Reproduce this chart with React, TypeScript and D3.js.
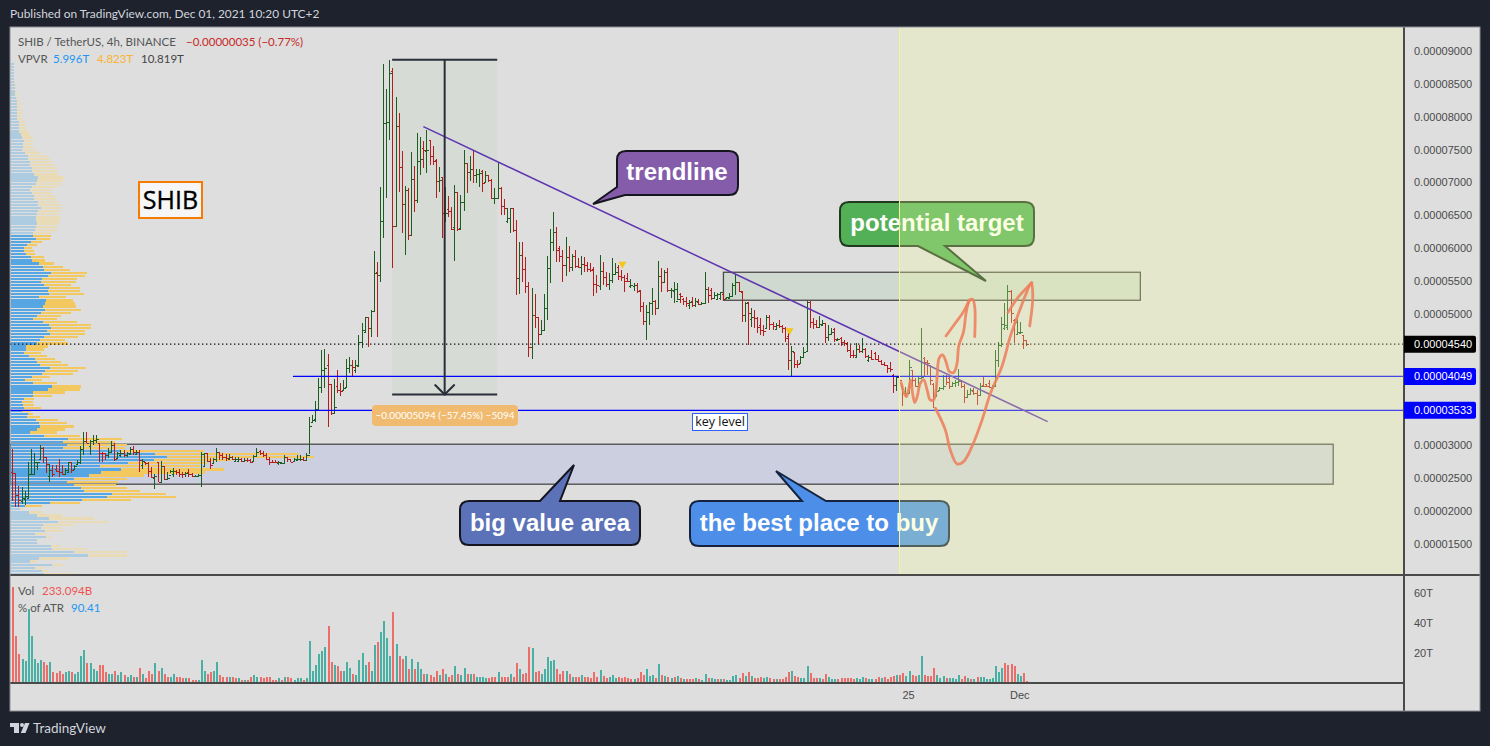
import React from "react";
import * as d3 from "d3";

// ---------- values (prices in units of 1e-8 USDT) ----------
type Bar = [number, number, number, number]; // open, high, low, close

const barsBase: Bar[] = [
[2600,2940,2160,2575],[2575,2576,2070,2250],[2250,2385,2070,2170],[2150,2365,2110,2200],[2190,2310,2095,2225],
[2200,2755,2195,2560],[2560,2940,2550,2570],[2560,2880,2565,2750],[2680,2755,2630,2740],[2800,3010,2780,2960],
[2960,2980,2730,2830],[2830,2830,2575,2720],[2530,2720,2450,2620],[2620,2700,2525,2570],[2640,2700,2600,2610],
[2610,2790,2525,2600],[2600,2700,2550,2560],[2560,2650,2550,2630],[2600,2755,2575,2740],[2740,2755,2575,2620],
[2640,2700,2625,2680],[2710,2780,2700,2750],[2750,2992,2720,2950],[2950,3200,2855,3060],[3060,3200,3030,3040],
[2990,3080,2855,3060],[3060,3160,3010,3075],[3075,3160,3030,3100],[3030,3030,2755,2890],[2890,2906,2740,2880],
[2880,2880,2780,2850],[2850,2957,2805,2900],[2900,3068,2880,3000],[3000,3030,2770,2790],[2810,2906,2805,2880],
[2860,2930,2830,2880],[2890,2930,2830,2850],[2850,2906,2830,2880],[2870,2972,2855,2950],[2950,2992,2855,2900],
[2870,2930,2855,2900],[2900,2930,2600,2780],[2700,2790,2640,2770],[2750,2755,2700,2725],[2725,2755,2525,2610],
[2610,2678,2500,2520],[2510,2560,2340,2530],[2750,2755,2440,2440],[2440,2765,2440,2680],[2680,2678,2475,2490],
[2490,2600,2475,2500],[2550,2625,2576,2610],[2570,2650,2525,2615],[2615,2625,2550,2590],[2590,2640,2525,2570],
[2570,2600,2500,2560],[2560,2600,2525,2580],[2590,2640,2525,2560],[2560,2576,2525,2530],[2530,2550,2525,2530],
[2530,2560,2525,2550],[2550,2906,2374,2870],[2680,2890,2678,2880],[2880,2880,2755,2770],[2770,2805,2640,2700],
[2730,2805,2730,2790],[2790,2957,2740,2900],[2900,2906,2780,2860],[2860,2880,2780,2830],[2830,2865,2770,2815],
[2800,2870,2780,2820],[2820,2845,2780,2800],[2760,2830,2755,2790],[2760,2830,2755,2790],[2790,2805,2755,2770],
[2770,2805,2755,2780],[2785,2805,2755,2775],[2775,2790,2730,2745],[2760,2855,2755,2840],[2840,2957,2830,2900],
[2910,2930,2855,2880],[2880,2920,2830,2850],[2850,2880,2780,2800],[2800,2830,2700,2755],[2755,2780,2730,2745],
[2755,2780,2730,2750],[2730,2770,2700,2745],[2725,2755,2720,2735],[2730,2855,2730,2820],[2820,2830,2755,2790],
[2790,2790,2740,2755],[2770,2805,2770,2790],[2780,2855,2770,2790],[2790,2855,2770,2795],[2800,2830,2770,2785],
[2785,2880,2780,2860],
];

const barsRally: Bar[] = [
[2860,3430,2865,3300],[3360,3464,3340,3380],[3400,3677,3362,3550],[3550,4021,3550,3895],[3895,4452,3793,4148],
[4140,4462,3869,4170],[4220,4386,3286,3930],[3930,3935,3464,3500],[3500,4011,3500,3590],[3900,4148,3793,3844],
[3844,3945,3757,3830],[3840,3996,3844,3880],[3885,4315,3894,4170],[4170,4350,4097,4230],[4230,4300,4047,4190],
[4150,4300,4097,4230],[4210,4680,4199,4580],[4580,4858,4488,4750],[4730,4959,4730,4950],[4950,4959,4503,4780],
[4780,5060,4655,5040],[5040,5958,5035,5620],[5640,5785,4655,5590],[5590,6926,5491,6410],[6410,8797,6161,7900],
[7900,8422,6769,7915],[7915,8863,7646,8670],[8690,8736,5704,6340],[6340,8300,6328,7860],[7860,8052,6850,7240],
[7240,7479,6227,6670],[6670,6946,5897,6880],[6880,6911,6125,6200],[6200,7459,6201,7050],[7050,7250,6556,6740],
[6740,7748,6683,7320],[7320,7697,7113,7350],[7520,7631,7225,7490],[7480,7798,7139,7495],[7640,7646,7266,7400],
[7400,7560,7266,7320],[7340,7352,6759,7020],[7020,7240,6860,7030],[7080,7088,6161,6530],[6530,6936,6404,6540],
[6590,6794,6480,6566],
];

const barsDecline: Bar[] = [
[6566,6632,6277,6290],[6320,6962,5811,6860],[6860,6860,6267,6290],[6300,6810,6277,6700],[6700,7494,6571,7290],
[7290,7301,6835,7160],[7160,7403,7027,7200],[7200,7494,6997,7110],[7110,7205,6987,7130],[7130,7205,6936,7150],
[7170,7190,6850,6990],[7000,7174,6997,7110],[7110,7114,7012,7040],[7045,7048,6744,6760],[6760,6911,6667,6770],
[6770,7301,6744,6910],[6910,6926,6505,6640],[6640,6744,6505,6610],[6420,6607,6378,6460],[6460,6607,6236,6610],
[6610,6607,6252,6270],[6270,6429,5288,5550],[5550,6100,5303,5900],[5900,6100,5491,5680],[5680,5861,5314,5430],
[5430,5481,4340,4490],[4490,5390,4315,4990],[4990,5303,4782,4950],[4950,4959,4543,4700],[4700,4908,4680,4760],
[4760,5303,4756,5090],[5090,5882,4908,5700],[5700,6292,5466,6100],[6100,6546,5963,6250],[6250,6318,5795,5980],
[6000,6034,5795,5880],[5880,5973,5491,5740],[5740,6166,5583,5870],[5870,6034,5643,5720],[5720,5912,5659,5880],
[5880,5973,5694,5730],[5730,5846,5694,5710],[5710,5882,5593,5760],[5760,5871,5643,5740],[5750,5795,5643,5690],
[5690,5780,5643,5670],[5690,5719,5278,5460],[5460,5593,5314,5440],[5420,5897,5365,5650],[5650,5795,5441,5560],
[5560,5643,5415,5450],[5450,5628,5365,5510],[5510,5846,5466,5610],[5610,5770,5593,5640],
];

const barsDrift: Bar[] = [
[5720,5745,5517,5580],[5580,5669,5501,5560],[5560,5593,5339,5500],[5540,5618,5491,5505],[5430,5527,5390,5440],
[5430,5466,5355,5440],[5440,5466,5324,5350],[5370,5365,5035,5120],[5120,5187,4832,4900],[4900,5137,4604,5030],
[5030,5187,4832,5170],[5170,5390,4984,5190],[5190,5213,4984,5090],[5090,5811,5086,5570],[5570,5694,5339,5490],
[5490,5669,5466,5640],[5640,5694,5339,5365],[5365,5390,5238,5370],[5350,5491,5162,5380],[5200,5466,5213,5230],
[5310,5314,5162,5270],[5230,5238,5137,5190],[5190,5263,5111,5160],[5130,5213,5071,5180],[5200,5263,5111,5140],
[5140,5238,5111,5200],[5180,5220,5137,5150],[5150,5187,5137,5165],[5165,5633,5162,5380],[5380,5415,5162,5290],
[5370,5390,5213,5240],[5240,5339,5238,5290],[5230,5314,5213,5300],[5240,5339,5213,5330],[5300,5314,5213,5230],
[5240,5263,5238,5255],[5250,5314,5238,5275],[5280,5466,5263,5440],[5440,5608,5289,5480],[5490,5491,5339,5350],
[5340,5345,4883,4990],[4990,5187,4883,5170],[5180,5187,4528,5010],[4930,5086,4807,4950],[4950,5060,4782,4945],
[4945,4950,4706,4800],[4830,4934,4680,4760],[4760,4832,4670,4740],[4790,4984,4782,4950],[4950,4984,4756,4840],
[4840,4883,4756,4820],[4770,4858,4756,4835],[4835,4908,4782,4810],[4810,4832,4706,4790],[4790,4800,4579,4640],
];

const barsBreak: Bar[] = [
[4670,4706,4148,4300],[4300,4513,4057,4430],[4425,4427,4174,4240],[4240,4300,4174,4235],[4250,4361,4250,4340],
[4340,4503,4326,4420],[4430,5203,4427,5175],[5175,5203,4782,4880],[4880,4934,4767,4850],[4850,4909,4782,4800],
[4800,4970,4797,4840],[4835,4909,4833,4860],[4860,4860,4564,4650],[4650,4833,4594,4690],[4690,4782,4680,4730],
[4770,4782,4569,4620],[4600,4630,4605,4620],[4640,4655,4513,4580],[4580,4604,4513,4560],[4560,4579,4427,4450],
[4450,4528,4326,4380],[4380,4452,4326,4370],[4340,4554,4326,4460],[4460,4528,4402,4430],[4430,4630,4402,4460],
[4460,4478,4326,4360],[4300,4376,4275,4340],[4340,4452,4300,4310],[4400,4427,4300,4310],[4310,4376,4275,4290],
[4290,4300,4224,4240],[4240,4275,4209,4220],[4220,4224,4098,4170],[4170,4275,4123,4160],[4075,4087,3793,3920],
[3920,4057,3834,4040],
];

const barsLast: Bar[] = [
[4040,4040,3950,3990],[3900,3920,3600,3790],[3790,3895,3733,3800],[3790,4300,3783,4200],[4150,4150,3895,4000],
[4000,4021,3895,3910],[3910,4047,3869,4030],[4025,4782,4021,4040],[4330,4341,4047,4270],[4270,4300,4072,4260],
[4220,4224,3920,4000],[3940,3945,3565,3730],[3760,3945,3743,3830],[3850,3895,3844,3880],[3880,4072,3844,3900],
[4060,4072,3920,3970],[4020,4047,3854,3910],[3900,3971,3885,3950],[3950,3996,3895,3960],[3960,4158,3905,3980],
[3980,3996,3869,3910],[3910,3935,3651,3740],[3740,3844,3743,3780],[3780,3869,3768,3840],[3835,3869,3768,3790],
[3800,3844,3616,3770],[3770,3945,3768,3900],[3920,4047,3895,3900],[3930,3935,3895,3910],[3950,3996,3869,3895],
[3880,3920,3869,3910],[3910,4452,3895,4300],[4300,4579,4199,4530],[4530,4959,4503,4840],[4780,5162,4757,4830],
[4800,5441,4757,5350],[5350,5365,4858,5020],[4915,4919,4554,4880],[4700,4919,4696,4720],[4710,4883,4706,4730],
[4680,4680,4462,4600],[4600,4600,4513,4540],
];

// Volume in T; negative = red (down) column.
const volumesFirst: number[] = [
-64,-31,-19,15.5,14.5,49,31,15.5,13,15,-14,-12,13.5,-7,-6.5,-8,-6,7,7.5,-7,5.5,7,17.5,22,-13,13,9,8,-11.5,-12,
-7,6,5.5,-7.5,5,7,-5,3.5,5,-4,3.5,-9.5,6,-3,-7.5,-6,13,-7.5,9.5,-6,-3.5,3.5,5.5,-4,-3.5,-3,3,-3,-2,-2,
2,15,7.5,-5.5,-7,7.5,13.5,-5,-4,-4,3.5,-3.5,-3,3,-2,2,-2,-4,5,4,-4,-3,-3.5,-3.5,-2,-2,3,-1.5,3.5,-3.5,
-3,2,3,3,-2,3,27.5,8,12,19,21,24,-37.5,-14,11.5,-11,-7.5,7.5,14,9.5,-5.5,5,15,19.5,12,-13.5,7.5,25,
-27,33.5,41,30,18,-47,25.5,-18,-16,17.5,-9,16,-9,14,9,-6,6,-5,-4,-8,5,-9,6,-4,-5,11,-6,5,9.5,-5.5,
6,-6,4,3.5,3.5,3,-3,-4,-4,7,-4,-3.5,-3.5,5.5,-4,-13,9,
];
const volumesSecond: number[] = [
-5.6,-6.3,-24,23,-7,-8,6,9,17,14.5,15,-9,-5.6,-7.6,8,-5.6,4,-4,-3.6,5,
-3.6,-3.6,-3,-7,-3.6,8.3,-4.3,-3,3.6,5,3,-3.6,-3,-3.6,-3,-2.3,2.3,-3,-7,-5,
9,4.3,5,-3,12.4,-5,4.3,-3.6,3,-3.6,4.3,-3,2.3,-2.3,-2.3,-2.3,3,-2.3,1.6,5.6,
-3,3,2.3,-2.3,2.3,-2.3,1.6,1.6,4.3,5,-3,-6.3,4.3,-7,4.3,-3,-3,-3.6,3,3.6,
-3,-2.3,2.3,-2.3,-2.3,-3.6,-7,7.6,-4.3,-3.6,3,3,11,-6.3,-3,-3,3,-2.3,-5.6,3.6,
2.3,2.3,-2.3,-3,-3,-3,-3,-2.3,3,2.3,3.6,-3,2.3,2.3,-2.3,-3.6,3,-3.6,-2.3,-3.6,
-4.3,5,-5,-6.3,4.3,7.6,-5,-4.3,5,18,-5,-4.3,-4.3,-9.7,5,3,4.3,-3,3,3,
2.3,5,-2.3,-4.3,3,-2.3,2.3,-3.6,3.6,3.6,2.3,2.3,3,11,7,9.7,-13,-11.7,-12.4,-11,
5.6,4.3,-6.3,-1,
];

// Volume profile rows from the top of the pane downward.
const vpvrUp: number[] = [
10,10,10,10,10,10,11,12,12,12,14,16,18,20,20,20,20,20,20,25,24,25,26,30,35,40,38,38,35,44,
52,52,58,58,64,64,70,82,80,76,64,58,64,70,70,82,82,92,82,78,76,76,80,76,74,68,68,76,60,50,
40,40,46,60,64,85,97,100,122,112,95,92,100,115,112,116,85,106,103,97,103,91,79,67,97,115,121,109,118,100,
88,79,46,45,40,55,73,79,88,118,103,94,64,43,67,124,112,67,67,40,34,37,40,34,52,49,76,85,88,79,
58,100,172,157,169,157,330,433,469,430,352,268,331,271,235,190,169,190,211,220,304,289,214,118,43,28,55,79,115,142,
97,91,103,73,106,79,79,121,124,190,232,85,58,124,73,94,100,
];
const vpvrDown: number[] = [
0,0,0,0,0,0,2,3,3,5,6,6,10,11,12,14,14,12,18,19,20,25,26,28,29,30,27,30,41,44,
56,66,67,72,74,76,72,78,78,79,71,62,58,62,65,60,68,63,66,67,72,71,62,64,66,54,52,42,35,30,
25,30,28,40,39,45,60,78,108,111,105,104,82,92,96,104,81,81,90,99,107,90,72,72,101,125,120,114,105,102,
75,93,66,55,51,54,60,71,84,108,99,93,54,51,72,87,96,96,57,30,33,33,51,27,15,39,66,84,102,84,
81,108,162,156,180,186,250,432,440,230,238,300,309,312,165,159,153,126,138,168,162,207,147,90,51,10,39,75,135,150,
93,60,54,36,15,0,0,30,102,159,117,90,18,36,27,21,90,
];

// 4500, 4000 and 3500 are not shown: the last-price and level tags sit on those rows.
const priceTicks = [9000,8500,8000,7500,7000,6500,6000,5500,5000,3000,2500,2000,1500];
const volumeTicks = [60,40,20];
const timeTicks: [number, string][] = [[290,"25"],[326,"Dec"]];
const markedBars: [number, number][] = [[197.4,5741],[251.5,4730]];

// Overlays as [bar index, price].
const trendline: [number, number][] = [[133,7849],[335,3362]];
const brushA: [number, number][] = [
[287.6,3955],[288.4,3819],[289.3,3743],[290,3844],[290.7,3996],[291.3,3793],[292,3651],[292.8,3743],[293.8,3945],
[294.9,3996],[296,3844],[297,3692],[298.1,3692],[298.9,3844],[299.3,4097],[299.9,4326],[301,4376],[302.1,4275],
[303.2,4123],[304.6,4108],[305.7,4250],[306.2,4503],[307.8,4731],[308.6,5010],[309.7,5203],[310.7,5223],[311.4,5111],[311.4,4655],
];
const brushB: [number, number][] = [[302.1,4665],[305.1,4858],[307.8,5035],[309.7,5213]];
const brushC: [number, number][] = [
[298.7,3565],[301.9,3236],[303.5,2931],[305.7,2718],[307.8,2754],[310.5,2982],[313.8,3388],[316.5,3793],[320.2,4199],
[322.9,4655],[325.6,5010],[328.3,5340],[329.7,5476],[330.2,5263],[329.2,4817],
];
const brushD: [number, number][] = [[322.2,5025],[325.6,5263],[329.9,5476]];
const brushes = [brushA, brushB, brushC, brushD];

const LAST_PRICE = 4540;
const LEVEL_HIGH = 4049;
const LEVEL_LOW = 3533;
const RANGE_TOP = 8868;
const RANGE_BOTTOM = 3774;

// ---------- layout ----------
const L = 10, R = 1480, AX = 1404, T = 27, PB = 575, VB = 683, B = 711, HL = 899;
const UI = "'Lato','Open Sans',sans-serif";
const AXIS = "'Liberation Sans',Arial,sans-serif";
const CALLOUT = "'Liberation Sans',Arial,sans-serif";
const BG = "#dedede", DARK = "#1e222d", GREEN = "#1b5e20", RED = "#b71c1c";

const bars: Bar[] = [...barsBase, ...barsRally, ...barsDecline, ...barsDrift, ...barsBreak, ...barsLast];
const volumes = [...volumesFirst, ...volumesSecond];

const xBar = d3.scaleLinear().domain([0, 328]).range([12.3, 1026]);
const yP = d3.scaleLinear().domain([9000, 1500]).range([51, 544]);
const yV = d3.scaleLinear().domain([0, 60]).range([682.5, 592.5]);
const vpW = d3.scaleLinear().domain([0, 1000]).range([0, 333.3]);
const vpRows = d3.scaleBand<number>().domain(d3.range(vpvrUp.length)).range([62.7, 575]).paddingInner(0.28);
const straight = d3.line<[number, number]>().x((d) => xBar(d[0])).y((d) => yP(d[1]));
const smooth = d3.line<[number, number]>().x((d) => xBar(d[0])).y((d) => yP(d[1])).curve(d3.curveCatmullRom.alpha(0.5));
const fmt = (v: number) => (v * 1e-8).toFixed(8);
const snap = (v: number) => Math.round(v) + 0.5;

function calloutBottom(x0: number, y0: number, x1: number, y1: number, r: number, tip: [number, number], a: number, b: number) {
  const p = d3.path();
  p.moveTo(x0 + r, y0);
  p.lineTo(x1 - r, y0); p.quadraticCurveTo(x1, y0, x1, y0 + r);
  p.lineTo(x1, y1 - r); p.quadraticCurveTo(x1, y1, x1 - r, y1);
  p.lineTo(b, y1); p.lineTo(tip[0], tip[1]); p.lineTo(a, y1);
  p.lineTo(x0 + r, y1); p.quadraticCurveTo(x0, y1, x0, y1 - r);
  p.lineTo(x0, y0 + r); p.quadraticCurveTo(x0, y0, x0 + r, y0);
  p.closePath();
  return p.toString();
}
function calloutTop(x0: number, y0: number, x1: number, y1: number, r: number, tip: [number, number], a: number, b: number) {
  const p = d3.path();
  p.moveTo(x0 + r, y0);
  p.lineTo(a, y0); p.lineTo(tip[0], tip[1]); p.lineTo(b, y0);
  p.lineTo(x1 - r, y0); p.quadraticCurveTo(x1, y0, x1, y0 + r);
  p.lineTo(x1, y1 - r); p.quadraticCurveTo(x1, y1, x1 - r, y1);
  p.lineTo(x0 + r, y1); p.quadraticCurveTo(x0, y1, x0, y1 - r);
  p.lineTo(x0, y0 + r); p.quadraticCurveTo(x0, y0, x0 + r, y0);
  p.closePath();
  return p.toString();
}
function calloutSide(x0: number, y0: number, x1: number, y1: number, r: number, tip: [number, number], a: number, b: number) {
  // pointer leaves through the lower left corner: a on the left edge (y), b on the bottom edge (x)
  const p = d3.path();
  p.moveTo(x0 + r, y0);
  p.lineTo(x1 - r, y0); p.quadraticCurveTo(x1, y0, x1, y0 + r);
  p.lineTo(x1, y1 - r); p.quadraticCurveTo(x1, y1, x1 - r, y1);
  p.lineTo(b, y1); p.lineTo(tip[0], tip[1]); p.lineTo(x0, a);
  p.lineTo(x0, y0 + r); p.quadraticCurveTo(x0, y0, x0 + r, y0);
  p.closePath();
  return p.toString();
}

const Label = ({ x, y, size = 11.5, fill = "#555", weight = 400, family = UI, anchor = "start", children }: any) => (
  <text x={x} y={y} fontSize={size} fill={fill} fontWeight={weight} fontFamily={family} textAnchor={anchor}>{children}</text>
);

export default function App() {
  const rectG = { x: xBar(230.1), y: yP(5634), w: xBar(365) - xBar(230.1), h: yP(5208) - yP(5634) };
  const rectB = { x: xBar(-0.75), y: yP(3018), w: xBar(427.4) - xBar(-0.75), h: yP(2410) - yP(3018) };
  const rangeX0 = xBar(122.9), rangeX1 = xBar(156.9), rangeXM = xBar(139.9);
  return (
    <svg width={1490} height={746} style={{ position: "absolute", left: 0, top: 0, display: "block" }}>
      <rect width={1490} height={746} fill={DARK} />
      <rect x={L} y={T} width={R - L} height={B - T} fill={BG} />
      <Label x={10} y={18} size={11.9} fill="#d1d4dc">Published on TradingView.com, Dec 01, 2021 10:20 UTC+2</Label>

      {/* zones under the price bars */}
      <rect x={rectB.x} y={rectB.y} width={rectB.w} height={rectB.h} fill="rgb(70,100,240)" fillOpacity={0.12} stroke="#4a4a4a" strokeWidth={1.3} />
      <rect x={rectG.x} y={rectG.y} width={rectG.w} height={rectG.h} fill="rgb(76,175,80)" fillOpacity={0.1} stroke="#4a4a4a" strokeWidth={1.3} />
      <rect x={rangeX0} y={yP(RANGE_TOP)} width={rangeX1 - rangeX0} height={yP(RANGE_BOTTOM) - yP(RANGE_TOP)} fill="rgb(76,175,80)" fillOpacity={0.05} />

      {/* volume profile */}
      <g shapeRendering="crispEdges">
        {vpvrUp.map((u, i) => {
          const y = vpRows(i)!, h = vpRows.bandwidth();
          const price = yP.invert(y + h / 2);
          const faded = price > 6217 || price < 2034;
          return (
            <g key={i}>
              <rect x={L + 0.6} y={y} width={vpW(u)} height={h} fill={faded ? "#adcbe1" : "#55a6e2"} />
              <rect x={L + 0.6 + vpW(u)} y={y} width={vpW(vpvrDown[i])} height={h} fill={faded ? "#e9dbb5" : "#f3c95f"} />
            </g>
          );
        })}
      </g>

      {/* OHLC bars */}
      <g shapeRendering="crispEdges" strokeWidth={1}>
        {bars.map(([o, h, l, c], i) => {
          const x = snap(xBar(i));
          const col = c >= o ? GREEN : RED;
          return (
            <g key={i} stroke={col}>
              <line x1={x} x2={x} y1={yP(h)} y2={yP(l)} />
              <line x1={x - 2} x2={x} y1={snap(yP(o))} y2={snap(yP(o))} />
              <line x1={x} x2={x + 2.5} y1={snap(yP(c))} y2={snap(yP(c))} />
            </g>
          );
        })}
      </g>
      {markedBars.map(([i, p], k) => {
        const x = xBar(i), y = yP(p);
        return <path key={k} d={`M${x - 4},${y - 3.5}L${x + 4},${y - 3.5}L${x},${y + 3.5}Z`} fill="#f5c518" />;
      })}

      {/* levels */}
      <line x1={L} x2={AX} y1={yP(LAST_PRICE)} y2={yP(LAST_PRICE)} stroke="#111" strokeWidth={1.3} strokeDasharray="1.4 2.6" />
      <line x1={xBar(90.8)} x2={AX} y1={yP(LEVEL_HIGH)} y2={yP(LEVEL_HIGH)} stroke="#0000ff" strokeWidth={1.2} />
      <line x1={L} x2={AX} y1={yP(LEVEL_LOW)} y2={yP(LEVEL_LOW)} stroke="#0000ff" strokeWidth={1.2} />
      <path d={straight(trendline)!} fill="none" stroke="#5e35b1" strokeWidth={1.5} />

      {/* price range tool */}
      <g stroke="#2a2e39" strokeWidth={2} fill="none">
        <line x1={rangeX0} x2={rangeX1} y1={yP(RANGE_TOP)} y2={yP(RANGE_TOP)} />
        <line x1={rangeX0} x2={rangeX1} y1={yP(RANGE_BOTTOM)} y2={yP(RANGE_BOTTOM)} />
        <line x1={rangeXM} x2={rangeXM} y1={yP(RANGE_TOP)} y2={yP(RANGE_BOTTOM)} />
        <path d={`M${rangeXM - 10},${yP(RANGE_BOTTOM) - 10}L${rangeXM},${yP(RANGE_BOTTOM)}L${rangeXM + 10},${yP(RANGE_BOTTOM) - 10}`} />
      </g>
      <rect x={372} y={405} width={146} height={21} rx={4} fill="#f0bb70" />
      <Label x={445} y={419} size={10} fill="#fff" anchor="middle">−0.00005094 (−57.45%) −5094</Label>

      {/* text boxes */}
      <rect x={139} y={182} width={63} height={36} fill="#f6f6f6" stroke="#f57c00" strokeWidth={2} />
      <text x={170.5} y={209} fontSize={25} fill="#000" stroke="#000" strokeWidth={0.35} fontFamily="'Open Sans',sans-serif" textAnchor="middle">SHIB</text>
      <rect x={692.5} y={413.5} width={55} height={17} fill="#fff" stroke="#2962ff" strokeWidth={1} />
      <Label x={720} y={426} size={12.5} fill="#111" family="'Open Sans',sans-serif" anchor="middle">key level</Label>

      <path d={calloutSide(617, 151, 738, 195, 9, [593, 204], 187, 625)} fill="#845caa" stroke="#15151f" strokeWidth={2} />
      <Label x={677} y={180} size={24} fill="#fff" weight={700} family={CALLOUT} anchor="middle">trendline</Label>

      <path d={calloutBottom(840, 202, 1034, 246, 9, [986, 281], 918, 945)} fill="#54b057" stroke="#1f3a20" strokeWidth={2} />
      <Label x={937} y={231} size={24} fill="#fff" weight={700} family={CALLOUT} anchor="middle">potential target</Label>

      <path d={calloutTop(460, 501, 640, 545, 9, [574, 465], 540, 560)} fill="#5b72b8" stroke="#15151f" strokeWidth={2} />
      <Label x={550} y={531} size={24} fill="#fff" weight={700} family={CALLOUT} anchor="middle">big value area</Label>

      <path d={calloutTop(690, 501, 949, 546, 9, [776, 471], 802, 826)} fill="#4d8fe8" stroke="#15233f" strokeWidth={2} />
      <Label x={819} y={531} size={24} fill="#fff" weight={700} family={CALLOUT} anchor="middle">the best place to buy</Label>

      {/* highlighted time span */}
      <rect x={HL} y={T} width={AX - HL} height={PB - T} fill="rgb(245,255,157)" fillOpacity={0.28} />
      <line x1={HL + 0.5} x2={HL + 0.5} y1={T} y2={PB} stroke="#f2f59a" strokeWidth={1} />

      {/* hand-drawn strokes */}
      <g fill="none" stroke="#ee7f5c" strokeOpacity={0.88} strokeWidth={2.8} strokeLinecap="round" strokeLinejoin="round">
        {brushes.map((b, i) => <path key={i} d={smooth(b)!} />)}
      </g>

      {/* volume pane */}
      <g shapeRendering="crispEdges">
        {volumes.map((v, i) => (
          <rect key={i} x={Math.round(xBar(i)) - 0.5} y={yV(Math.abs(v))} width={2} height={yV(0) - yV(Math.abs(v))} fill={v >= 0 ? "#48b1a3" : "#ec6e6b"} />
        ))}
      </g>

      {/* frame */}
      <rect x={AX} y={T} width={R - AX} height={B - T} fill={BG} />
      <g stroke="#4a4a4a" strokeWidth={1.2} shapeRendering="crispEdges">
        <line x1={L} x2={R} y1={PB} y2={PB} />
        <line x1={L} x2={AX} y1={VB} y2={VB} />
        <line x1={AX} x2={AX} y1={T} y2={B} />
      </g>
      <rect x={L} y={T} width={R - L} height={B - T} fill="none" stroke="#8b8d94" strokeWidth={1} />

      {/* axes */}
      {priceTicks.map((t) => (
        <Label key={t} x={1414} y={yP(t) + 4} size={11} fill="#4a4a4a" family={AXIS}>{fmt(t)}</Label>
      ))}
      {volumeTicks.map((t) => (
        <Label key={t} x={1414} y={yV(t) + 4} size={11} fill="#4a4a4a" family={AXIS}>{t}T</Label>
      ))}
      {timeTicks.map(([i, s]) => (
        <Label key={s} x={xBar(i)} y={699} size={11} fill="#4a4a4a" anchor="middle" family={AXIS}>{s}</Label>
      ))}
      {[[LAST_PRICE, "#000000"], [LEVEL_HIGH, "#0000ff"], [LEVEL_LOW, "#0000ff"]].map(([p, c]) => (
        <g key={p as number}>
          <path d={`M${AX},${yP(p as number) - 8.5}H1474a2,2 0 0 1 2,2V${yP(p as number) + 6.5}a2,2 0 0 1 -2,2H${AX}Z`} fill={c as string} />
          <Label x={1414} y={yP(p as number) + 4} size={11} fill="#fff" family={AXIS}>{fmt(p as number)}</Label>
        </g>
      ))}

      {/* legends */}
      <Label x={18} y={46}>SHIB / TetherUS, 4h, BINANCE</Label>
      <Label x={186} y={46} fill="#c62828">−0.00000035 (−0.77%)</Label>
      <Label x={18} y={63}>VPVR</Label>
      <Label x={53} y={63} fill="#2196f3">5.996T</Label>
      <Label x={97} y={63} fill="#fbb32f">4.823T</Label>
      <Label x={141} y={63} fill="#444">10.819T</Label>
      <Label x={18} y={595}>Vol</Label>
      <Label x={42} y={595} fill="#ef5350">233.094B</Label>
      <Label x={18} y={612}>% of ATR</Label>
      <Label x={71} y={612} fill="#2196f3">90.41</Label>

      {/* brand */}
      <g fill="#d1d4dc">
        <path d="M10,723H19V733H14V727H10Z" />
        <circle cx={22} cy={725} r={2} />
        <path d="M25,723H29.5L25.5,733H20.8Z" />
      </g>
      <Label x={33} y={733} size={13.5} fill="#d1d4dc">TradingView</Label>
    </svg>
  );
}
